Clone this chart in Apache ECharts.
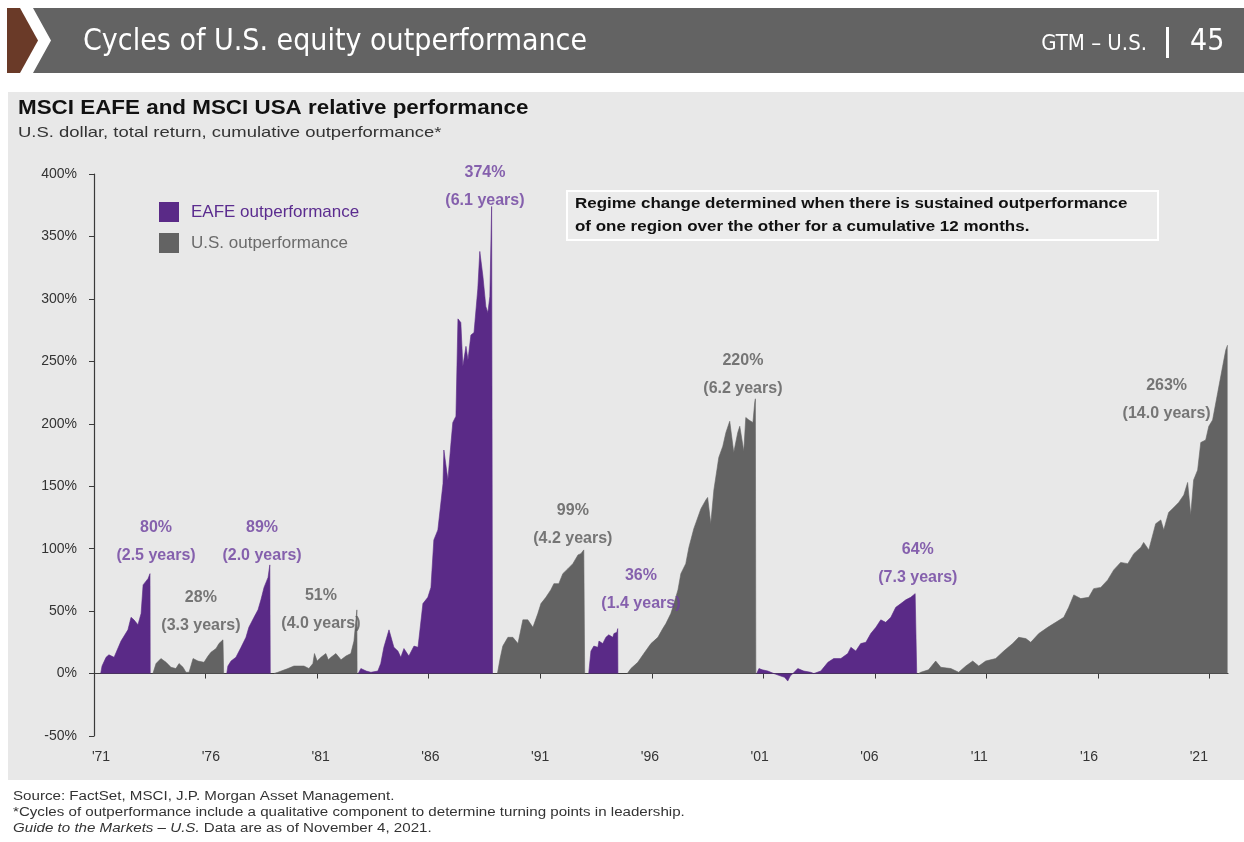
<!DOCTYPE html>
<html>
<head>
<meta charset="utf-8">
<style>
  html, body { margin: 0; padding: 0; background: #fff; }
  #chart-container { width: 1244px; height: 842px; }
</style>
<script src="https://cdn.jsdelivr.net/npm/echarts@6/dist/echarts.min.js"></script>
</head>
<body>
<div id="chart-container"></div>
<script>
// cumulative outperformance (%) in each regime, [year, value]
const eafe1971 = [[1971.30,0],[1971.36,6],[1971.54,13],[1971.67,15],[1971.90,13],[1972.21,26],[1972.52,35],[1972.66,45],[1972.79,43],[1972.97,39],[1973.11,48],[1973.20,71],[1973.24,72],[1973.42,76],[1973.51,80],[1973.52,0]];
const us1973 = [[1973.64,0],[1973.78,8],[1974.00,12],[1974.23,9],[1974.45,5],[1974.67,4],[1974.81,8],[1974.99,5],[1975.12,1],[1975.26,1],[1975.44,12],[1975.66,10],[1975.93,9],[1976.11,14],[1976.24,17],[1976.47,20],[1976.60,24],[1976.78,27],[1976.80,28],[1976.81,0]];
const eafe1976 = [[1976.95,0],[1977.00,6],[1977.14,10],[1977.36,13],[1977.59,21],[1977.81,29],[1977.94,37],[1978.17,45],[1978.35,51],[1978.48,59],[1978.62,69],[1978.80,77],[1978.88,87],[1978.90,0]];
const us1978 = [[1979.06,0],[1979.24,1],[1979.69,4],[1979.96,6],[1980.41,6],[1980.63,4],[1980.81,8],[1980.88,16],[1981.00,10],[1981.17,13],[1981.39,16],[1981.50,11],[1981.62,13],[1981.84,16],[1982.07,11],[1982.29,14],[1982.51,16],[1982.65,26],[1982.74,43],[1982.78,51],[1982.79,0]];
const eafe1982 = [[1982.84,0],[1982.96,4],[1983.20,2],[1983.41,1],[1983.72,2],[1983.85,8],[1983.99,21],[1984.22,35],[1984.44,21],[1984.62,18],[1984.75,13],[1984.89,20],[1985.11,14],[1985.34,22],[1985.52,21],[1985.74,56],[1985.96,61],[1986.10,69],[1986.23,107],[1986.41,115],[1986.64,152],[1986.68,179],[1986.86,155],[1987.00,185],[1987.08,201],[1987.22,206],[1987.31,284],[1987.44,281],[1987.53,246],[1987.67,262],[1987.76,251],[1987.89,271],[1988.03,273],[1988.20,308],[1988.29,338],[1988.43,318],[1988.56,294],[1988.65,289],[1988.74,302],[1988.82,374],[1988.85,374],[1988.86,0]];
const us1989 = [[1989.08,0],[1989.20,12],[1989.32,22],[1989.55,29],[1989.77,29],[1990.00,24],[1990.22,43],[1990.44,43],[1990.67,37],[1990.89,48],[1991.03,56],[1991.25,61],[1991.47,67],[1991.61,72],[1991.83,72],[1992.01,80],[1992.24,84],[1992.46,88],[1992.69,95],[1992.82,96],[1992.95,99],[1992.99,0]];
const eafe1993 = [[1993.17,0],[1993.27,18],[1993.40,22],[1993.58,21],[1993.63,26],[1993.80,24],[1993.94,29],[1994.07,31],[1994.25,29],[1994.30,32],[1994.43,33],[1994.47,36],[1994.48,0]];
const us1994 = [[1994.90,0],[1995.06,4],[1995.37,9],[1995.64,16],[1995.96,24],[1996.27,29],[1996.49,36],[1996.63,40],[1996.85,48],[1996.99,56],[1997.17,67],[1997.30,80],[1997.52,88],[1997.66,101],[1997.88,116],[1998.20,132],[1998.42,139],[1998.50,141],[1998.64,120],[1998.78,147],[1999.00,173],[1999.18,182],[1999.32,193],[1999.49,202],[1999.67,177],[1999.85,193],[1999.94,198],[2000.12,178],[2000.21,205],[2000.35,203],[2000.53,201],[2000.61,217],[2000.64,220],[2000.66,0]];
const eafe2000 = [[2000.70,0],[2000.80,4],[2000.95,3],[2001.20,2],[2001.47,0],[2001.78,-2],[2001.95,-3],[2002.09,-6],[2002.20,-2],[2002.32,0],[2002.54,4],[2002.81,2],[2003.12,1],[2003.26,0],[2003.57,2],[2003.89,9],[2004.15,12],[2004.47,12],[2004.78,16],[2004.92,21],[2005.14,18],[2005.36,24],[2005.59,25],[2005.81,32],[2006.04,37],[2006.26,43],[2006.48,41],[2006.71,45],[2006.93,53],[2007.16,56],[2007.38,59],[2007.60,61],[2007.80,64],[2007.86,64],[2007.87,0]];
const us2007 = [[2007.95,0],[2008.05,1],[2008.40,3],[2008.72,10],[2008.95,5],[2009.40,4],[2009.75,1],[2010.07,6],[2010.38,10],[2010.65,6],[2010.96,10],[2011.41,12],[2011.77,18],[2012.17,24],[2012.44,29],[2012.76,28],[2012.98,25],[2013.34,32],[2013.74,37],[2014.10,41],[2014.46,45],[2014.68,53],[2014.91,63],[2015.22,60],[2015.58,61],[2015.80,68],[2016.12,69],[2016.43,75],[2016.70,83],[2017.01,89],[2017.33,88],[2017.60,96],[2017.91,101],[2018.04,105],[2018.27,99],[2018.58,120],[2018.81,123],[2018.94,115],[2019.16,129],[2019.39,133],[2019.61,137],[2019.84,143],[2020.01,153],[2020.15,127],[2020.28,155],[2020.46,163],[2020.60,185],[2020.82,187],[2020.96,198],[2021.13,203],[2021.36,225],[2021.58,246],[2021.72,259],[2021.80,263]];

const eafeRegimes = [eafe1971, eafe1976, eafe1982, eafe1993, eafe2000];
const usRegimes = [us1973, us1978, us1989, us1994, us2007];

// peak labels: position [year, value], text, which region
const annotPos = [[1973.78,106],[1975.79,50],[1978.53,106],[1981.17,51],[1988.52,390],[1992.46,119],[1995.51,67],[2000.08,239],[2007.92,88],[2019.07,219]];
const annotPct = ["80%","28%","89%","51%","374%","99%","36%","220%","64%","263%"];
const annotSpan = ["2.5","3.3","2.0","4.0","6.1","4.2","1.4","6.2","7.3","14.0"];
const annotEafe = [true,false,true,false,true,false,true,false,true,false];

const tickYears = [1971,1976,1981,1986,1991,1996,2001,2006,2011,2016,2021];

const PURPLE = "#5a2a87";
const GREY = "#636363";
const FONT = '"Liberation Sans", Arial, sans-serif';
const NARROW = '"Liberation Sans Narrow", "DejaVu Sans Condensed", sans-serif';

var dom = document.getElementById("chart-container");
var myChart = echarts.init(dom, null, { renderer: "canvas" });

const areaSeries = (name, color) => (data) => ({
  name: name,
  type: "line",
  data: data,
  showSymbol: false,
  symbol: "none",
  lineStyle: { width: 0.6, color: color },
  itemStyle: { color: color },
  areaStyle: { color: color, opacity: 1 },
  z: 2
});

const annotSeries = (isEafe) => ({
  type: "scatter",
  symbolSize: 1,
  itemStyle: { color: "rgba(0,0,0,0)" },
  z: 5,
  data: annotPos
    .map((p, i) => ({ value: p, pct: annotPct[i], span: annotSpan[i], e: annotEafe[i] }))
    .filter((d) => d.e === isEafe),
  label: {
    show: true,
    position: "inside",
    formatter: (params) => "{a|" + params.data.pct + "}\n{a|(" + params.data.span + " years)}",
    rich: {
      a: {
        fontFamily: FONT,
        fontWeight: "bold",
        fontSize: 16,
        lineHeight: 28,
        color: isEafe ? "#6b3d9e" : "#575757"
      }
    }
  }
});

// stretched text helper for the page furniture
const txt = (text, x, y, font, fill, sx, extra) => ({
  type: "text", z: 10, silent: true, x: x, y: y, scaleX: sx || 1,
  style: Object.assign({ text: text, x: 0, y: 0, fill: fill, font: font, textVerticalAlign: "middle" }, extra || {})
});

var option = {
  backgroundColor: "#ffffff",
  animation: false,
  grid: { left: 94, right: 16, top: 174, bottom: 106, containLabel: false },
  legend: {
    orient: "vertical",
    left: 159,
    top: 202,
    padding: 0,
    itemWidth: 20,
    itemHeight: 20,
    itemGap: 11,
    icon: "rect",
    selectedMode: false,
    textStyle: { fontFamily: FONT, fontSize: 17, padding: [0, 0, 0, 7] },
    data: [
      { name: "EAFE outperformance", textStyle: { color: "#5b2c8f" } },
      { name: "U.S. outperformance", textStyle: { color: "#6b6b6b" } }
    ]
  },
  xAxis: [
    {
      type: "value",
      min: 1971,
      max: 2021.82,
      axisLine: { onZero: true, lineStyle: { color: "#3a3a3a", width: 1.2 } },
      axisTick: { show: true, length: 5, customValues: tickYears.slice(1), lineStyle: { color: "#3a3a3a" } },
      axisLabel: { show: false },
      splitLine: { show: false }
    },
    {
      type: "value",
      position: "bottom",
      min: 1970.68,
      max: 2022.33,
      axisLine: { show: false, onZero: false },
      axisTick: { show: false },
      splitLine: { show: false },
      axisLabel: {
        customValues: tickYears,
        margin: 14,
        fontFamily: FONT,
        fontSize: 14,
        color: "#333",
        formatter: (v) => "'" + String(v).slice(2)
      }
    }
  ],
  yAxis: {
    type: "value",
    min: -50,
    max: 400,
    interval: 50,
    axisLine: { show: true, lineStyle: { color: "#3a3a3a", width: 1.2 } },
    axisTick: { show: true, length: 5, lineStyle: { color: "#3a3a3a" } },
    axisLabel: { fontFamily: FONT, fontSize: 14, color: "#333", margin: 17, formatter: "{value}%" },
    splitLine: { show: false }
  },
  series: [
    ...eafeRegimes.map(areaSeries("EAFE outperformance", PURPLE)),
    ...usRegimes.map(areaSeries("U.S. outperformance", GREY)),
    annotSeries(true),
    annotSeries(false)
  ],
  graphic: [
    { type: "rect", z: -10, silent: true, shape: { x: 8, y: 92, width: 1236, height: 688 }, style: { fill: "#e8e8e8" } },
    { type: "polygon", z: -5, silent: true, shape: { points: [[7, 8], [20, 8], [38, 40.5], [20, 73], [7, 73]] }, style: { fill: "#6a3a28" } },
    { type: "polygon", z: -5, silent: true, shape: { points: [[33, 8], [1244, 8], [1244, 73], [33, 73], [51, 40.5]] }, style: { fill: "#636363" } },
    txt("Cycles of U.S. equity outperformance", 83, 42, "30px " + NARROW, "#fff"),
    txt("GTM – U.S.", 1147, 44, "22px " + NARROW, "#fff", 1, { textAlign: "right" }),
    { type: "rect", z: 10, silent: true, shape: { x: 1166, y: 27, width: 3, height: 31 }, style: { fill: "#fff" } },
    txt("45", 1190, 42, "30px " + NARROW, "#fff"),
    txt("MSCI EAFE and MSCI USA relative performance", 18, 108, "bold 20px " + FONT, "#111", 1.12),
    txt("U.S. dollar, total return, cumulative outperformance*", 18, 133, "15px " + FONT, "#333", 1.23),
    { type: "rect", z: 1, silent: true, shape: { x: 567, y: 191, width: 591, height: 49 }, style: { fill: "#ebebeb", stroke: "#ffffff", lineWidth: 2 } },
    txt("Regime change determined when there is sustained outperformance\nof one region over the other for a cumulative 12 months.", 575, 215.5, "bold 14.5px " + FONT, "#111", 1.17, { lineHeight: 23 }),
    txt("Source: FactSet, MSCI, J.P. Morgan Asset Management.", 13, 797, "12.5px " + FONT, "#333", 1.21),
    txt("*Cycles of outperformance include a qualitative component to determine turning points in leadership.", 13, 813, "12.5px " + FONT, "#333", 1.21),
    txt("{i|Guide to the Markets – U.S.} Data are as of November 4, 2021.", 13, 829, "12.5px " + FONT, "#333", 1.21, {
      rich: { i: { fontStyle: "italic", fontFamily: FONT, fontSize: 12.5, fill: "#333" } }
    })
  ]
};

if (option && typeof option === "object") {
  myChart.setOption(option);
}

window.addEventListener("resize", myChart.resize);
</script>
</body>
</html>
